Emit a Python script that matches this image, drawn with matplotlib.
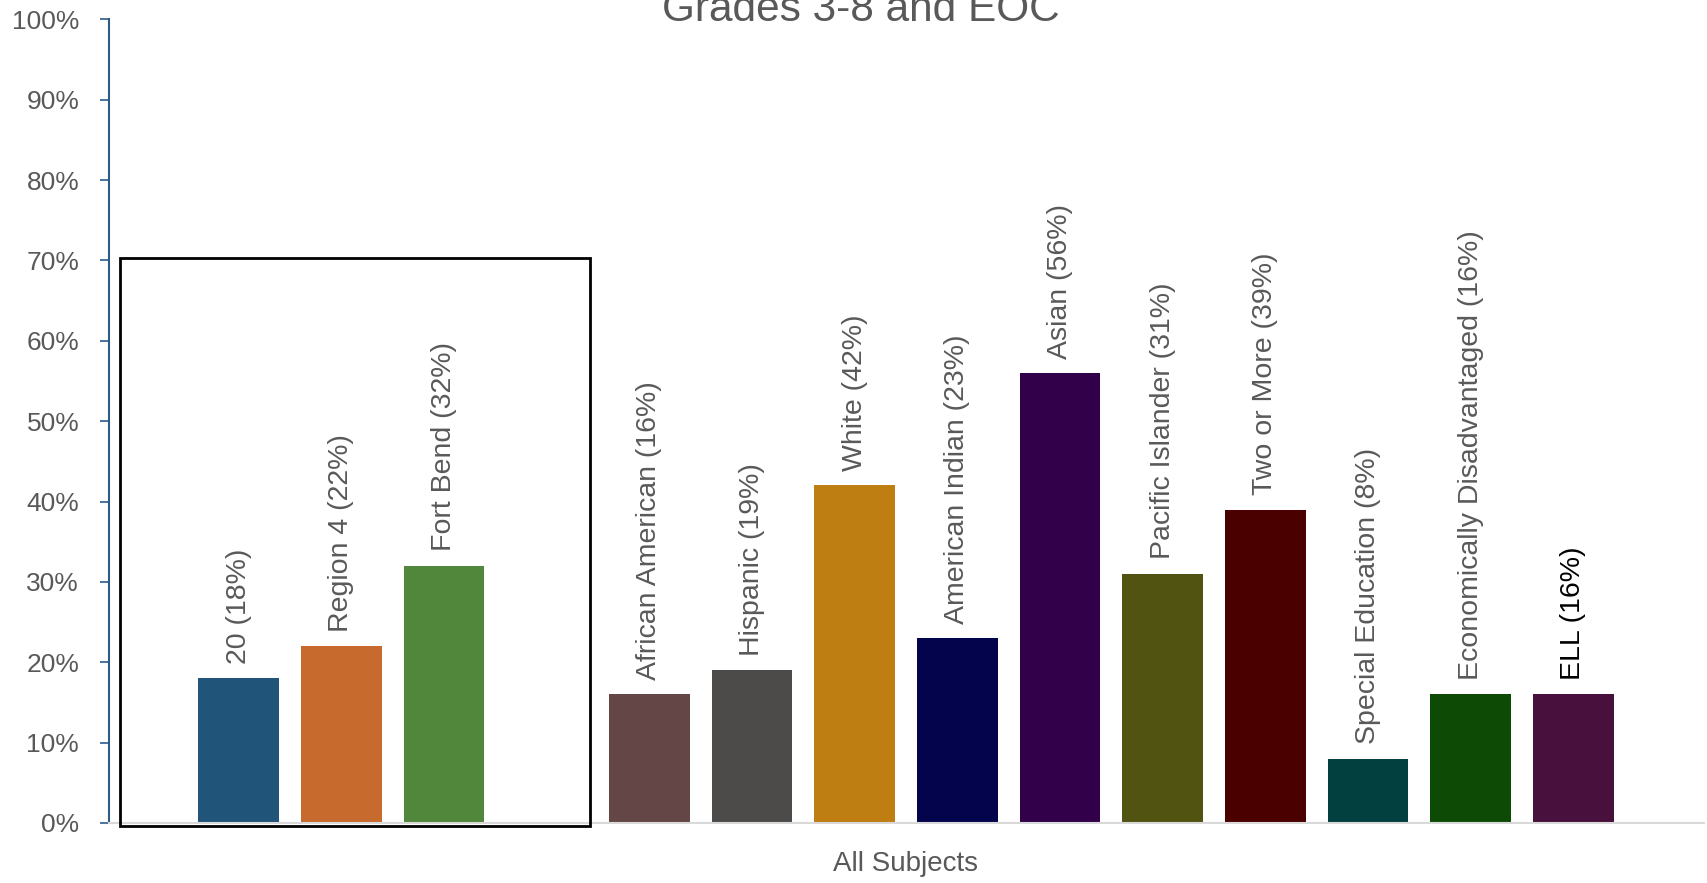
import numpy as np
import matplotlib.pyplot as plt
from matplotlib.patches import Rectangle

plt.rcParams['font.family'] = ['Liberation Sans', 'DejaVu Sans']

# chart data
groups = ['20', 'Region 4', 'Fort Bend', '',
          'African American', 'Hispanic', 'White', 'American Indian', 'Asian',
          'Pacific Islander', 'Two or More', 'Special Education',
          'Economically Disadvantaged', 'ELL']
values = [18, 22, 32, None, 16, 19, 42, 23, 56, 31, 39, 8, 16, 16]
colors = ['#215479', '#C66A2E', '#51873A', 'none',
          '#644646', '#4D4A4A', '#BE7E11', '#03044C', '#32004B',
          '#515411', '#4B0000', '#023F3F', '#0C4A05', '#48103D']
yticks = [0, 10, 20, 30, 40, 50, 60, 70, 80, 90, 100]
category = 'All Subjects'
title = 'Grades 3-8 and EOC'

fig = plt.figure(figsize=(17.07, 8.83), dpi=100)
ax = fig.add_axes([0.0639, 0.068, 0.9341, 0.910])

gray = '#595959'
for i, (g, v, c) in enumerate(zip(groups, values, colors)):
    if v is None:
        continue
    ax.bar(i, v, width=0.785, color=c)
    ax.text(i, v + 1.8, f'{g} ({v}%)', rotation=90, ha='center', va='bottom',
            fontsize=20.5, color='black' if g == 'ELL' else gray)

ax.set_xlim(-1.262, 14.27)
ax.set_ylim(0, 100)
ax.set_yticks(yticks)
ax.set_yticklabels([f'{t}%' for t in yticks], fontsize=19, color=gray)
ax.tick_params(axis='y', direction='out', length=6.5, width=1.2,
               color='#2E5C8A', pad=15)
ax.set_xticks([6.5])
ax.set_xticklabels([category], fontsize=20, color=gray)
ax.tick_params(axis='x', length=0, pad=20)

for s in ['top', 'right']:
    ax.spines[s].set_visible(False)
ax.spines['left'].set_color('#2E5C8A')
ax.spines['left'].set_linewidth(1.5)
ax.spines['bottom'].set_color('#D9D9D9')
ax.spines['bottom'].set_linewidth(1.5)

# box around district / region / state group
ax.add_patch(Rectangle((-1.156, -0.4), 4.581, 70.7, fill=False,
                       edgecolor='black', linewidth=2, clip_on=False, zorder=5))

fig.text(0.504, 0.976, title, ha='center', va='baseline', fontsize=30.5, color=gray)

fig.savefig('out.png', dpi=100)
